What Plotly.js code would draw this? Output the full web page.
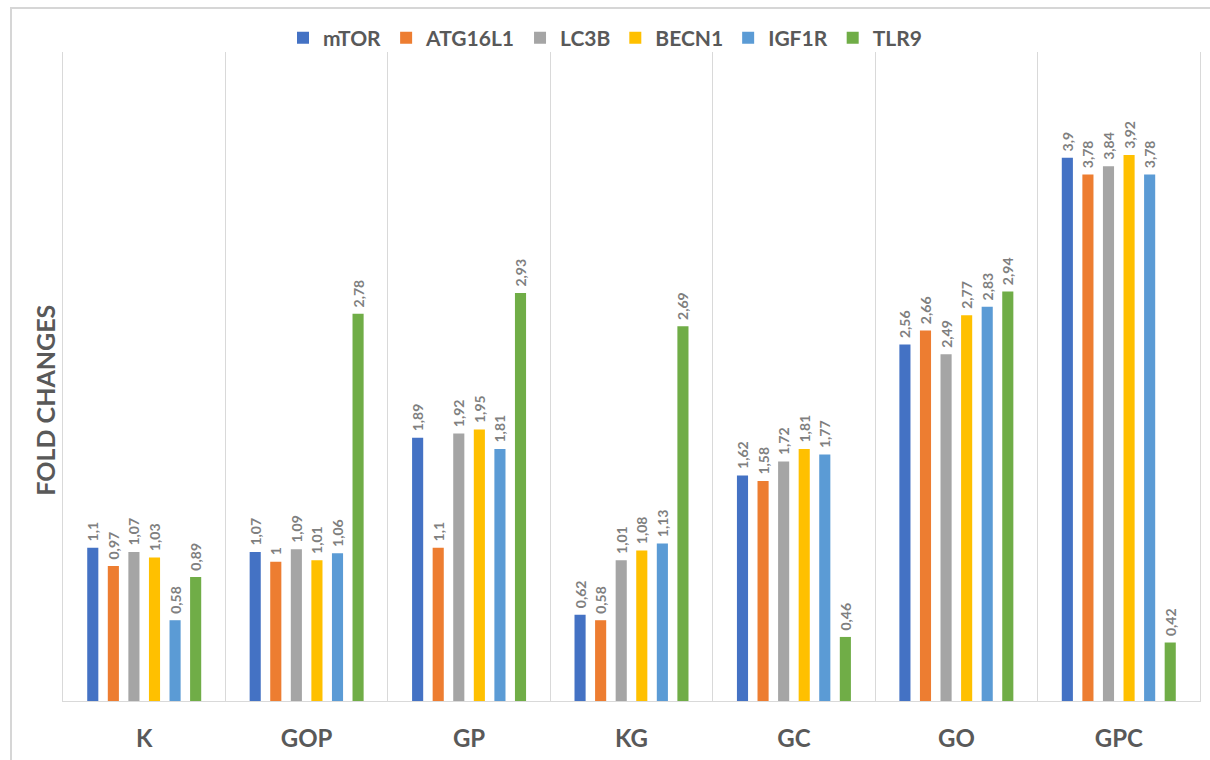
<!DOCTYPE html>
<html>
<head>
<meta charset="utf-8">
<script src="https://cdn.plot.ly/plotly-3.0.1.min.js"></script>
<style>
html,body{margin:0;padding:0;background:#fff;}
#frame{position:absolute;left:10px;top:7px;width:1220px;height:770px;border-top:2px solid #d6d6d6;border-left:2px solid #d6d6d6;pointer-events:none;z-index:5;}
#chart{position:absolute;left:0;top:0;width:1210px;height:760px;}
</style>
</head>
<body>
<div id="chart"></div>
<div id="frame"></div>
<script>
const categories = ["K", "GOP", "GP", "KG", "GC", "GO", "GPC"];
const mTOR    = [1.10, 1.07, 1.89, 0.62, 1.62, 2.56, 3.90];
const ATG16L1 = [0.97, 1.00, 1.10, 0.58, 1.58, 2.66, 3.78];
const LC3B    = [1.07, 1.09, 1.92, 1.01, 1.72, 2.49, 3.84];
const BECN1   = [1.03, 1.01, 1.95, 1.08, 1.81, 2.77, 3.92];
const IGF1R   = [0.58, 1.06, 1.81, 1.13, 1.77, 2.83, 3.78];
const TLR9    = [0.89, 2.78, 2.93, 2.69, 0.46, 2.94, 0.42];

const seriesNames = ["mTOR", "ATG16L1", "LC3B", "BECN1", "IGF1R", "TLR9"];
const seriesValues = [mTOR, ATG16L1, LC3B, BECN1, IGF1R, TLR9];
const colors = ["#4472c4", "#ed7d31", "#a5a5a5", "#ffc000", "#5b9bd5", "#70ad47"];
const yTitle = "FOLD CHANGES";

const fontFam = "Lato, 'Open Sans', sans-serif";

const traces = seriesNames.map((name, i) => ({
  type: "bar",
  name: name,
  x: categories,
  y: seriesValues[i],
  text: seriesValues[i].map(v => " " + String(v).replace(".", ",")),
  textposition: "outside",
  textangle: -90,
  constraintext: "none",
  cliponaxis: false,
  textfont: {family: fontFam, size: 14, color: "#7f7f7f", weight: "bold"},
  marker: {color: colors[i]},
  hoverinfo: "x+y+name"
}));

const layout = {
  width: 1210,
  height: 760,
  margin: {l: 63, r: 10, t: 52, b: 59, autoexpand: false},
  paper_bgcolor: "rgba(0,0,0,0)",
  plot_bgcolor: "#fff",
  barmode: "group",
  bargap: 0.24,
  bargroupgap: 0.46,
  showlegend: true,
  legend: {
    orientation: "h",
    x: 0.5, xref: "container", xanchor: "center",
    y: 0.95, yref: "container", yanchor: "middle",
    font: {family: fontFam, size: 21, color: "#595959", weight: "bold"},
    itemwidth: 30,
    traceorder: "normal"
  },
  xaxis: {
    type: "category",
    tickson: "boundaries",
    showgrid: true,
    gridcolor: "#d9d9d9",
    gridwidth: 1.2,
    ticks: "",
    showline: true,
    linecolor: "#d9d9d9",
    linewidth: 1.2,
    mirror: false,
    tickfont: {family: fontFam, size: 24, color: "#595959", weight: "bold"},
    ticklabelstandoff: 16
  },
  yaxis: {
    range: [0, 4.66],
    showgrid: false,
    zeroline: false,
    showticklabels: false,
    ticks: "",
    showline: true,
    linecolor: "#d9d9d9",
    linewidth: 1.2,
    mirror: true
  },
  annotations: [{
    text: yTitle,
    xref: "paper", yref: "paper",
    x: -0.016, y: 0.464,
    xanchor: "center", yanchor: "middle",
    textangle: -90,
    showarrow: false,
    font: {family: fontFam, size: 25, color: "#595959", weight: "bold"}
  }]
};

Plotly.newPlot("chart", traces, layout, {displayModeBar: false, staticPlot: true});
</script>
</body>
</html>
